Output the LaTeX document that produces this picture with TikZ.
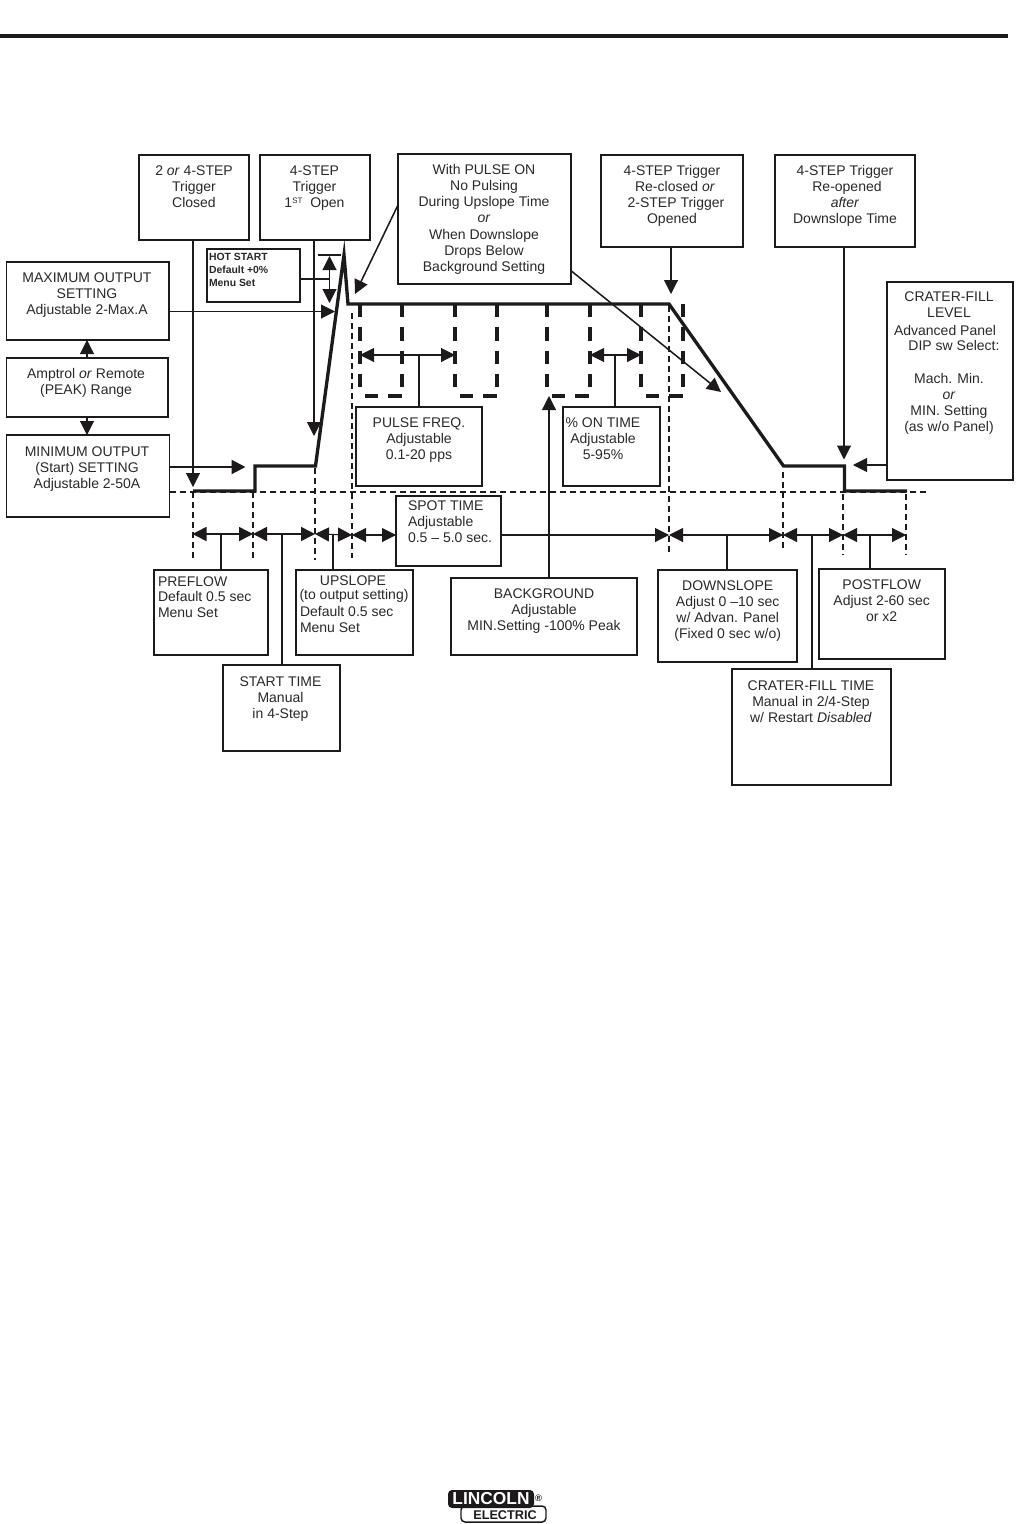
\documentclass[tikz,border=0pt]{standalone}
\usepackage{fontspec}
\setmainfont{Liberation Sans}
\usetikzlibrary{arrows.meta}
\definecolor{ink}{HTML}{1C1A1A}
\definecolor{txtink}{HTML}{2A2828}
\tikzset{
  >={Triangle[length=10.5pt,width=10.5pt]},
  box/.style={draw=ink,line width=0.95pt,inner sep=0pt,outer sep=0pt,anchor=north west},
  boxthick/.style={line width=1.4pt},
  txt/.style={inner sep=0pt,outer sep=0pt,anchor=north,align=center,text=txtink,font=\fontsize{10.5}{12.2}\selectfont,yshift=8pt},
  txtl/.style={txt,anchor=north west,align=left},
  small/.style={txtl,font=\fontsize{7.8}{9.75}\selectfont\bfseries,yshift=-2pt},
  link/.style={draw=ink,line width=0.8pt},
  linkm/.style={draw=ink,line width=1.15pt},
  linkb/.style={draw=ink,line width=1.6pt},
  wave/.style={draw=ink,line width=2.5pt,line join=miter},
  pulse/.style={draw=ink,line width=2.3pt,dash pattern=on 10pt off 7.5pt},
  guide/.style={draw=ink,line width=0.85pt,dash pattern=on 4.5pt off 3pt},
}
\newcommand{\bx}[6][]{\node[box,#1,minimum width={(#4-#2)*0.75pt},minimum height={(#5-#3)*0.75pt}] (#6) at (#2,#3) {};}
\newcommand{\tx}[4]{\node[txt] (#1) at (#2,#3) {\rule{0pt}{8pt}#4};}
\newcommand{\tl}[4]{\node[txtl] (#1) at (#2,#3) {\rule{0pt}{8pt}#4};}
\begin{document}
\begin{tikzpicture}[x=0.75pt,y=-0.75pt]
\useasboundingbox (0,0) rectangle (1016,1524);
% top rule
\draw[ink,line width=2.8pt] (0,36) -- (1008,36);
% boxes
\bx[boxthick]{139}{155}{249}{240}{trigclosed}
\bx{260}{155}{370}{240}{trigopen}
\bx{207}{249}{300}{302}{hot}
\bx[boxthick]{6.5}{262}{169}{340}{maxout}
\bx[boxthick]{6.5}{358}{168}{417}{amptrol}
\bx{6.5}{435}{169.5}{517}{minout}
\bx[boxthick]{398}{154}{571}{284}{pulseon}
\bx{601}{155}{743}{247}{reclosed}
\bx[boxthick]{775}{155}{915}{247}{reopened}
\bx{887}{282}{1013}{480}{craterlevel}
\bx{356}{407}{482}{486}{freq}
\bx[boxthick]{563}{407}{660}{486}{ontime}
\bx[boxthick]{396}{496}{501}{566}{spot}
\bx[boxthick]{154}{570}{268}{655}{preflow}
\bx{223}{665}{340}{751}{start}
\bx{296}{570}{413}{655}{upslope}
\bx{451}{578}{637}{655}{background}
\bx[boxthick]{658}{570}{797}{662}{downslope}
\bx[boxthick]{819}{569}{945}{659}{postflow}
\bx{732}{669}{891}{785}{cratertime}
% texts
\tx{t1}{194}{175}{2 \emph{or} 4-STEP\\Trigger\\Closed}
\tx{t2}{314.5}{175}{4-STEP\\Trigger\\1\raisebox{3.4pt}{\fontsize{6}{6}\selectfont ST}\ \ Open}
\node[small] (t3) at (209,260) {\rule{0pt}{6pt}HOT START\\Default +0\%\\Menu Set};
\tx{t4}{87}{282}{MAXIMUM OUTPUT\\SETTING\\Adjustable 2-Max.A}
\tx{t5}{86}{378}{Amptrol \emph{or} Remote\\(PEAK) Range}
\tx{t6}{87}{456}{MINIMUM OUTPUT\\(Start) SETTING\\Adjustable 2-50A}
\tx{t7}{484}{174}{With PULSE ON\\No Pulsing\\During Upslope Time\\\emph{or}\\When Downslope\\Drops Below\\Background Setting}
\tx{t8}{672}{175}{4-STEP Trigger}
\tx{t8b}{675}{191}{Re-closed \emph{or}}
\tx{t8c}{676}{207}{2-STEP Trigger}
\tx{t8d}{672}{223}{Opened}
\tx{t9}{845}{175}{4-STEP Trigger}
\tx{t9b}{847}{191}{Re-opened}
\tx{t9c}{845}{207}{\emph{after}\\Downslope Time}
\tx{t10}{949}{301.7}{CRATER-FILL\\LEVEL}
\tx{t10b}{945}{335.7}{Advanced Panel}
\tx{t10c}{954}{350.7}{DIP sw Select:}
\tx{t10d}{949}{383}{Mach. Min.\\\emph{or}\\MIN. Setting\\(as w/o Panel)}
\tx{t11}{419}{427}{PULSE FREQ.\\Adjustable\\0.1-20 pps}
\tx{t12}{603}{427}{\% ON TIME\\Adjustable\\5-95\%}
\tl{t13}{408}{510}{SPOT TIME\\Adjustable\\0.5 -- 5.0 sec.}
\tl{t14}{158}{586.7}{PREFLOW}
\tl{t14b}{158}{601}{Default 0.5 sec\\Menu Set}
\tx{t15}{353}{585}{UPSLOPE}
\tx{t15b}{354}{599}{(to output setting)}
\tl{t15c}{300}{616}{Default 0.5 sec\\Menu Set}
\tx{t16}{280.5}{686}{START TIME\\Manual\\in 4-Step}
\tx{t17}{544}{598}{BACKGROUND\\Adjustable\\MIN.Setting -100\% Peak}
\tx{t18}{727.7}{590}{DOWNSLOPE\\Adjust 0 --10 sec\\w/ Advan. Panel\\(Fixed 0 sec w/o)}
\tx{t19}{881.7}{589}{POSTFLOW\\Adjust 2-60 sec\\or x2}
\tx{t20}{811}{690}{CRATER-FILL TIME\\Manual in 2/4-Step\\w/ Restart \emph{Disabled}}
% guides
\draw[guide] (170,492) -- (927,492);
\draw[guide] (193,492) -- (193,559);
\draw[guide] (253,492) -- (253,560);
\draw[guide] (315,468) -- (315,560);
\draw[guide] (352,313) -- (352,558);
\draw[guide] (669,306) -- (669,556);
\draw[guide] (783,472) -- (783,552);
\draw[guide] (843,494) -- (843,555);
\draw[guide] (906,494) -- (906,555);
% pulses
\foreach \xa/\xb in {360/402,455/497,547/590,641/683}{
  \draw[pulse] (\xa,304) -- (\xa,390);
  \draw[pulse] (\xb,304) -- (\xb,390);
  \draw[pulse] (\xa+5,396) -- (\xb,396);
}
% waveform
\coordinate (w1) at (193,491);
\coordinate (w2) at (255,491);
\coordinate (w3) at (255,466);
\coordinate (w4) at (315.5,466);
\coordinate (w5) at (344,255);
\coordinate (w6) at (348,304);
\coordinate (w7) at (669,304);
\coordinate (w8) at (783.5,466);
\coordinate (w9) at (844.5,466);
\coordinate (w10) at (844.5,491);
\coordinate (w11) at (907,491);
\draw[wave] (w1) -- (w2) -- (w3) -- (w4) -- (w5) -- (w6) -- (w7) -- (w8) -- (w9) -- (w10) -- (w11);
% targets
\coordinate (a1) at (193,487);
\coordinate (a2) at (314,436);
\coordinate (h1) at (329.5,256);
\coordinate (h2) at (329.5,303);
\coordinate (h3) at (329.5,279);
\coordinate (h4) at (318,255);
\coordinate (h5) at (341,255);
\coordinate (a3) at (335,311.5);
\coordinate (a4) at (87,340);
\coordinate (a5) at (87,435);
\coordinate (a6) at (245.5,467);
\coordinate (a7s) at (398,205);
\coordinate (a7) at (355,294);
\coordinate (a8s) at (571,270.7);
\coordinate (a8) at (721,392);
\coordinate (a9) at (671,294);
\coordinate (a10) at (844,459.5);
\coordinate (a11) at (853,465);
\coordinate (p1) at (360,355);
\coordinate (p2) at (455,355);
\coordinate (p3) at (419,355);
\coordinate (q1) at (590,355);
\coordinate (q2) at (641,355);
\coordinate (q3) at (615,355);
\coordinate (a12) at (549,396);
% connectors
\draw[link,->] (trigclosed.south -| a1) -- (a1);
\draw[link,->] (trigopen.south -| a2) -- (a2);
\draw[link] (hot.east |- h3) -- (h3);
\draw[link,<->] (h1) -- (h2);
\draw[link] (h4) -- (h5);
\draw[link,->] (maxout.east |- a3) -- (a3);
\draw[link,->] (amptrol.north -| a4) -- (maxout.south -| a4);
\draw[link,->] (amptrol.south -| a5) -- (minout.north -| a5);
\draw[linkb,->] (minout.east |- a6) -- (a6);
\draw[linkm,->] (a7s) -- (a7);
\draw[linkm,->] (a8s) -- (a8);
\draw[link,->] (reclosed.south -| a9) -- (a9);
\draw[link,->] (reopened.south -| a10) -- (a10);
\draw[link,->] (craterlevel.west |- a11) -- (a11);
\draw[link,<->] (p1) -- (p2);
\draw[link] (p3) -- (freq.north -| p3);
\draw[link,<->] (q1) -- (q2);
\draw[link] (q3) -- (ontime.north -| q3);
\draw[link,->] (background.north -| a12) -- (a12);
% timeline
\coordinate (c1) at (192.5,534);
\coordinate (c2) at (253,534);
\coordinate (c3) at (315,534);
\coordinate (c4) at (352,535);
\coordinate (c5) at (396,535);
\coordinate (c6) at (669,535);
\coordinate (c7) at (783,535);
\coordinate (c8) at (843,535);
\coordinate (c9) at (906,535);
\draw[linkm,<->] (c1) -- (c2);
\draw[linkm,<->] (c2) -- (c3);
\draw[link,<->] (c3) -- (c4);
\draw[link,<->] (c4) -- (spot.west |- c5);
\draw[link,->] (spot.east |- c6) -- (c6);
\draw[link,<->] (c6) -- (c7);
\draw[link,<->] (c7) -- (c8);
\draw[link,<->] (c8) -- (c9);
\coordinate (s1) at (221,534);
\coordinate (s2) at (282,534);
\coordinate (s3) at (333,534);
\coordinate (s4) at (727,535);
\coordinate (s5) at (812,535);
\coordinate (s6) at (870,535);
\draw[linkm] (s1) -- (preflow.north -| s1);
\draw[linkb] (s2) -- (start.north -| s2);
\draw[linkb] (s3) -- (upslope.north -| s3);
\draw[linkm] (s4) -- (downslope.north -| s4);
\draw[linkb] (s5) -- (cratertime.north -| s5);
\draw[link] (s6) -- (postflow.north -| s6);
% logo
\node[draw=ink,line width=1.1pt,fill=white,rounded corners=3pt,minimum width=63.75pt,minimum height=12pt,inner sep=0pt,outer sep=0pt] (logob) at (503.5,1514) {};
\node[fill=ink,rounded corners=3pt,minimum width=64.5pt,minimum height=13.5pt,inner sep=0pt,outer sep=0pt] (logoa) at (491,1499) {};
\node[text=white,inner sep=0pt,font=\fontsize{13}{13}\selectfont\bfseries] (lincoln) at (logoa.center) {LINCOLN};
\node[text=ink,inner sep=0pt,font=\fontsize{9.5}{9.5}\selectfont\bfseries] (electric) at (505,1515) {ELECTRIC};
\node[text=ink,inner sep=0pt,font=\fontsize{7}{7}\selectfont\bfseries] (reg) at (538.5,1498) {®};
\end{tikzpicture}
\end{document}
